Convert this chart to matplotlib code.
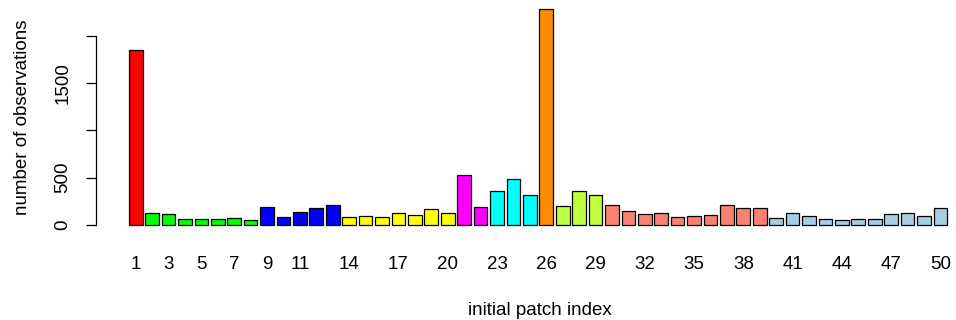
import numpy as np
import matplotlib
matplotlib.use("Agg")
import matplotlib.pyplot as plt

plt.rcParams['font.family'] = ['Liberation Sans', 'DejaVu Sans']

# number of observations per initial patch
patch = list(range(1, 51))
counts = [1848, 127, 119, 63, 59, 67, 77, 53, 190, 88,
          133, 183, 207, 80, 98, 88, 130, 106, 165, 130,
          528, 193, 362, 482, 313, 2279, 200, 362, 317, 207,
          148, 119, 127, 88, 98, 109, 207, 175, 184, 77,
          123, 98, 59, 49, 63, 63, 112, 130, 91, 175]
groups = ["#FF0000"] * 1 + ["#00FF00"] * 7 + ["#0000FF"] * 5 + ["#FFFF00"] * 7 \
    + ["#FF00FF"] * 2 + ["#00FFFF"] * 3 + ["#FF8C00"] * 1 + ["#C0FF3E"] * 3 \
    + ["#FA8072"] * 10 + ["#A6CEE3"] * 11
shown_labels = [1, 3, 5, 7, 9, 11, 14, 17, 20, 23, 26, 29, 32, 35, 38, 41, 44, 47, 50]

fs = 13.5
fig = plt.figure(figsize=(9.56, 3.2), dpi=100)
ax = fig.add_axes([96 / 956, 1 - 233.6 / 320, 886.8 / 956, 232.9 / 320])

# R style barplot: width 1, space 0.2
xpos = 0.7 + 1.2 * np.arange(len(patch))
ax.bar(xpos, counts, width=1.0, color=groups, edgecolor="black", linewidth=0.9)

ax.set_xlim(-2.2, 62.6)
ax.set_ylim(-0.04 * max(counts), 1.04 * max(counts))

for s in ["top", "right", "bottom"]:
    ax.spines[s].set_visible(False)
ax.spines["left"].set_bounds(0, 2000)
ax.spines["left"].set_linewidth(0.9)

ax.set_yticks([0, 500, 1000, 1500, 2000])
ax.set_yticklabels(["0", "500", "", "1500", ""], rotation=90, va="center", fontsize=fs)
ax.tick_params(axis="y", length=7.5, width=0.9, pad=10)

ax.set_xticks([xpos[p - 1] for p in shown_labels])
ax.set_xticklabels([str(p) for p in shown_labels], fontsize=fs)
ax.tick_params(axis="x", length=0, pad=16)

ax.set_xlabel("initial patch index", fontsize=fs, labelpad=21)
ax.set_ylabel("number of observations", fontsize=fs, labelpad=17)

fig.savefig("out.png", dpi=100)
